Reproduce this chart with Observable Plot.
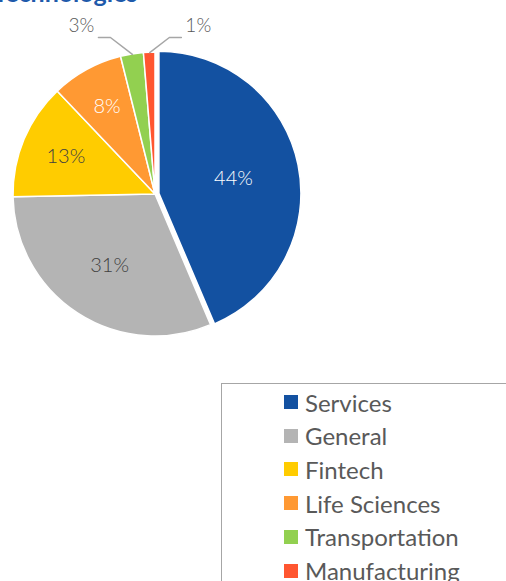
<!DOCTYPE html>
<html><head><meta charset="utf-8">
<script src="https://cdn.jsdelivr.net/npm/d3@7"></script>
<script src="https://cdn.jsdelivr.net/npm/@observablehq/plot@0.6"></script>
<style>
html,body{margin:0;padding:0;background:#fff;overflow:hidden;width:506px;height:581px;position:relative;}
body{font-family:Lato,"Open Sans",sans-serif;}
#chart svg{display:block;}
#legend{position:absolute;left:221px;top:383px;width:300px;height:230px;border-left:1.5px solid #a6a6a6;border-top:1.5px solid #a6a6a6;box-sizing:border-box;}
.item{position:absolute;left:62px;display:flex;align-items:center;font-size:24px;color:#595959;height:30px;white-space:nowrap;}
.sw{width:14px;height:14px;margin-right:7px;flex:none;}
</style></head><body>
<div id="chart"></div>
<div id="legend"></div>
<script>
const categories = ["Services","General","Fintech","Life Sciences","Transportation","Manufacturing"];
const values = [43.6, 31.1, 13.2, 8.2, 2.6, 1.3];
const labels = ["44%","31%","13%","8%","3%","1%"];
const colors = ["#1351A1","#B4B4B4","#FFCC00","#FF9933","#92D050","#FF5630"];
const labelColors = ["#ffffff","#404040","#404040","#ffffff","#595959","#595959"];
const titleText = "Technologies";

const W = 506, H = 383;
const cx = 155, cy = 194, R = 142;
const explode = [4, 0, 0, 0, 0, 0];

const data = categories.map((c, i) => ({category: c, value: values[i], label: labels[i], lc: labelColors[i], ex: explode[i]}));
const arcs = d3.pie().sort(null).value(d => d.value)(data);
const total = d3.sum(values);

// label positions
const inside = [], outside = [], leaders = [];
arcs.forEach((a, i) => {
  const mid = (a.startAngle + a.endAngle) / 2;
  const sx = Math.sin(mid), sy = -Math.cos(mid);
  const ox = a.data.ex * sx, oy = a.data.ex * sy;
  if (a.data.value >= 5) {
    const d = R * (0.75 - 0.5 * a.data.value / total);
    inside.push({x: cx + ox + d * sx, y: cy + oy + d * sy, label: a.data.label, lc: a.data.lc});
  } else {
    const px = cx + R * sx, py = cy + R * sy;
    const dir = sx < -0.05 ? -1 : 1;
    const ey = cy - R - 15;
    const exx = px + dir * (py - ey) * 1.3;
    const endx = exx + dir * 12;
    leaders.push({id: i, x: px, y: py}, {id: i, x: exx, y: ey}, {id: i, x: endx, y: ey});
    outside.push({x: endx + dir * 4, y: ey - 12, label: a.data.label, lc: a.data.lc, dir});
  }
});

function pieMark(index, scales, values, dimensions) {
  const g = d3.create("svg:g");
  const arcGen = d3.arc().innerRadius(0).outerRadius(R);
  const X = scales.x(cx), Y = scales.y(cy);
  for (const a of arcs) {
    const mid = (a.startAngle + a.endAngle) / 2;
    const ox = a.data.ex * Math.sin(mid), oy = -a.data.ex * Math.cos(mid);
    g.append("path")
      .attr("d", arcGen(a))
      .attr("transform", `translate(${X + ox},${Y + oy})`)
      .attr("fill", scales.color(a.data.category))
      .attr("stroke", "#ffffff")
      .attr("stroke-width", 1.5)
      .attr("stroke-linejoin", "round");
  }
  return g.node();
}

const plot = Plot.plot({
  width: W, height: H, margin: 0,
  x: {domain: [0, W], range: [0, W], axis: null},
  y: {domain: [0, H], range: [0, H], axis: null},
  color: {domain: categories, range: colors},
  style: {fontFamily: "Lato, 'Open Sans', sans-serif", background: "#fff"},
  marks: [
    pieMark,
    Plot.line(leaders, {x: "x", y: "y", z: "id", stroke: "#a6a6a6", strokeWidth: 1.5}),
    Plot.text(inside, {x: "x", y: "y", text: "label", fill: "lc", fontSize: 20, fontWeight: 300}),
    Plot.text(outside.filter(d => d.dir < 0), {x: "x", y: "y", text: "label", fill: "lc", fontSize: 19, fontWeight: 300, textAnchor: "end"}),
    Plot.text(outside.filter(d => d.dir > 0), {x: "x", y: "y", text: "label", fill: "lc", fontSize: 19, fontWeight: 300, textAnchor: "start"}),
    Plot.text([titleText], {x: [137], y: [1], text: d => d, textAnchor: "end", lineAnchor: "bottom", fill: "#1F5AAB", fontSize: 25, fontWeight: "bold"})
  ]
});
document.getElementById("chart").appendChild(plot);

const legend = document.getElementById("legend");
categories.forEach((c, i) => {
  const it = document.createElement("div");
  it.className = "item";
  it.style.top = (3 + i * 33.7) + "px";
  const sw = document.createElement("span");
  sw.className = "sw"; sw.style.background = colors[i];
  const t = document.createElement("span"); t.textContent = c;
  it.appendChild(sw); it.appendChild(t);
  legend.appendChild(it);
});
</script>
</body></html>
